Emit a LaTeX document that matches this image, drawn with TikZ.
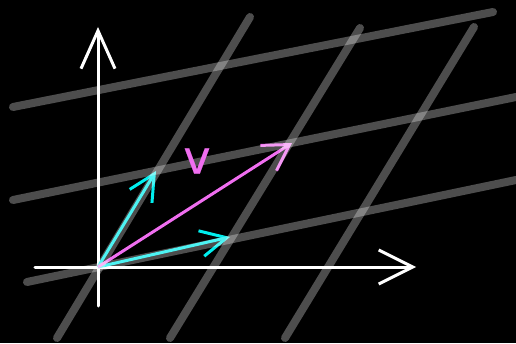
\documentclass[tikz,border=0pt]{standalone}
\usepackage{fontspec}
\newfontfamily\labelfont[FakeBold=0.35]{DejaVu Sans ExtraLight}
\usetikzlibrary{arrows.meta}
\definecolor{vecpink}{RGB}{240,110,240}
\definecolor{basecyan}{RGB}{0,238,238}
\tikzset{
  axis/.style={white,line width=3pt,line cap=round,
    -{Straight Barb[length=#1,width=34pt]}},
  gridline/.style={white,opacity=0.3,line width=8pt,line cap=round},
  basis/.style={basecyan,line width=3pt,
    -{Straight Barb[length=26pt,width=26pt]}},
}
\begin{document}
\begin{tikzpicture}[x=1pt,y=1pt]
    \fill[black] (-98,-76) rectangle (418,267);
    \useasboundingbox (-98,-76) rectangle (418,267);

    \coordinate (O) at (0,0);
    \coordinate (Xl) at (-63,0);
    \coordinate (Xr) at (318,0);
    \coordinate (Yb) at (0,-39);
    \coordinate (Yt) at (0,240);
    \coordinate (E1) at (132,30);
    \coordinate (E2) at (58,96);
    \coordinate (V) at (194,124);

    % axes
    \draw[axis=34pt] (Xl) -- (Xr);
    \draw[axis=38pt] (Yb) -- (Yt);

    % basis vectors and v
    \draw[basis] (O) -- (E1);
    \draw[basis] (O) -- (E2);
    \draw[vecpink,line width=3pt,-{Straight Barb[length=25pt,width=30pt]}]
        (O) -- (V);

    % transformed grid
    \foreach \a/\b in {{(-71,-15)}/{(418,87)},{(-85,67)}/{(418,170)},
                       {(-85,160)}/{(395,255)},{(-41,-71)}/{(152,250)},
                       {(72,-71)}/{(262,239)},{(187,-71)}/{(376,240)}}
        \draw[gridline] \a -- \b;

    \node[vecpink,font=\labelfont\bfseries\fontsize{46}{46}\selectfont] (vlabel)
        at (99,106) {v};
\end{tikzpicture}
\end{document}
